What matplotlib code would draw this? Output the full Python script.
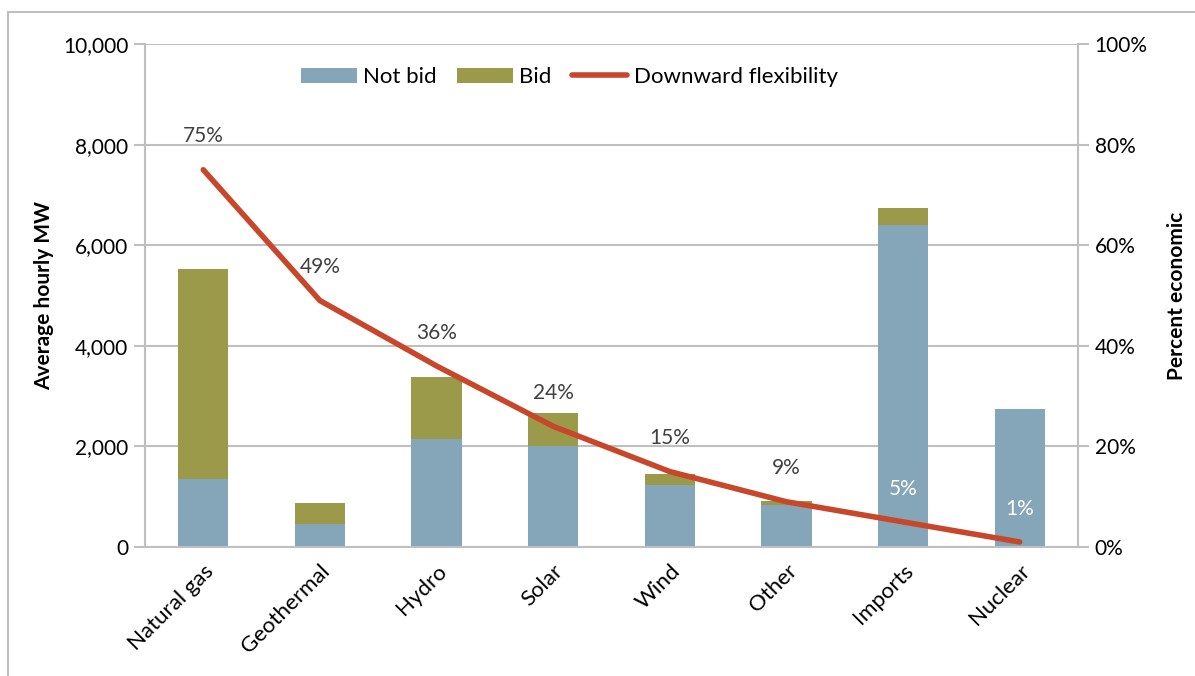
import matplotlib.pyplot as plt
from matplotlib.patches import Rectangle
from matplotlib.ticker import FuncFormatter, MultipleLocator

plt.rcParams["font.family"] = ["Lato", "DejaVu Sans"]

categories = ["Natural gas", "Geothermal", "Hydro", "Solar", "Wind", "Other", "Imports", "Nuclear"]
not_bid = [1350, 450, 2140, 2000, 1225, 835, 6410, 2735]
bid = [4180, 425, 1235, 655, 230, 80, 320, 10]
flex_pct = [75, 49, 36, 24, 15, 9, 5, 1]
label_colors = ["#404040"] * 6 + ["white", "white"]

BLUE = "#84A6B8"
OLIVE = "#9A9A4A"
RED = "#C8472A"
GRID = "#BFBFBF"
FS = 15

fig = plt.figure(figsize=(11.95, 6.76), dpi=100)
ax = fig.add_axes([0.1213, 0.1908, 0.7808, 0.7441])
x = range(len(categories))

ax.bar(x, not_bid, width=0.43, color=BLUE, label="Not bid", zorder=2)
ax.bar(x, bid, width=0.43, bottom=not_bid, color=OLIVE, label="Bid", zorder=2)

ax.set_xlim(-0.5, len(categories) - 0.5)
ax.set_ylim(0, 10000)
ax.yaxis.set_major_locator(MultipleLocator(2000))
ax.yaxis.set_major_formatter(FuncFormatter(lambda v, _: f"{int(v):,}"))
ax.grid(axis="y", color=GRID, linewidth=1.5, zorder=0)
ax.set_axisbelow(True)
ax.set_xticks(list(x))
ax.set_xticklabels(categories, rotation=45, ha="right", rotation_mode="anchor", fontsize=FS + 1)
ax.tick_params(axis="x", length=0, pad=10)
ax.tick_params(axis="y", labelsize=FS, color=GRID, width=1.5, length=8, pad=4)
for side in ["top", "right"]:
    ax.spines[side].set_visible(False)
for side in ["left", "bottom"]:
    ax.spines[side].set_color(GRID)
    ax.spines[side].set_linewidth(1.5)
ax.set_ylabel("Average hourly MW", fontsize=FS, fontweight="bold", labelpad=6)

ax2 = ax.twinx()
ax2.plot(x, [p / 100 for p in flex_pct], color=RED, linewidth=4, solid_capstyle="round",
         label="Downward flexibility", zorder=3)
ax2.set_ylim(0, 1)
ax2.yaxis.set_major_locator(MultipleLocator(0.2))
ax2.yaxis.set_major_formatter(FuncFormatter(lambda v, _: f"{v * 100:.0f}%"))
ax2.tick_params(axis="y", labelsize=FS, color=GRID, width=1.5, length=8, pad=4)
for side in ["top", "left", "bottom"]:
    ax2.spines[side].set_visible(False)
ax2.spines["right"].set_color(GRID)
ax2.spines["right"].set_linewidth(1.5)
ax2.set_ylabel("Percent economic", fontsize=FS, fontweight="bold", labelpad=14)

for i, (p, c) in enumerate(zip(flex_pct, label_colors)):
    ax2.annotate(f"{p}%", (i, p / 100), xytext=(0, 24), textcoords="offset points",
                 ha="center", va="center", fontsize=FS, color=c)

h1, l1 = ax.get_legend_handles_labels()
h2, l2 = ax2.get_legend_handles_labels()
ax.legend(h1 + h2, l1 + l2, loc="center", bbox_to_anchor=(0.455, 0.934), ncol=3,
          frameon=False, fontsize=FS + 1, handlelength=2.5, handletextpad=0.3, columnspacing=0.9)

fig.patches.append(Rectangle((8 / 1195, -0.01), 1.0, 1 - 12 / 676 + 0.01, transform=fig.transFigure,
                             fill=False, edgecolor="#BFBFBF", linewidth=1.5))

fig.savefig("out.png", dpi=100)
